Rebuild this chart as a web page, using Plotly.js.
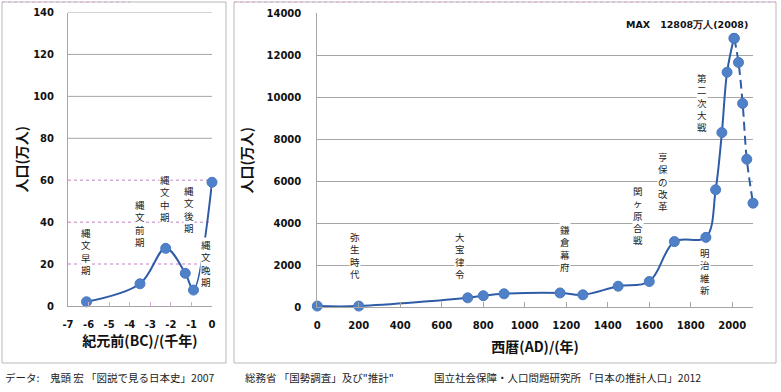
<!DOCTYPE html>
<html>
<head>
<meta charset="utf-8">
<script src="https://cdn.plot.ly/plotly-3.0.1.min.js"></script>
<style>html,body{margin:0;padding:0;background:#fff;}#chart{width:781px;height:392px;}</style>
</head>
<body>
<div id="chart"></div>
<script>
// ---- Left panel: BC (thousand years) ----
const bcYears = [-6.1, -3.5, -2.25, -1.3, -0.9, 0];
const bcPop = [2, 10.6, 27.5, 15.6, 7.6, 59];
const bcTicksX = [-7, -6, -5, -4, -3, -2, -1, 0];
const bcTickText = ['-7', '-6', '-5', '-4', '-3', '-2', '-1', '0'];
const bcTicksY = [0, 20, 40, 60, 80, 100, 120, 140];
const bcGridSolid = [80, 100, 120, 140];
const bcGridDotted = [20, 40, 60];
const bcLabels = ['縄文早期', '縄文前期', '縄文中期', '縄文後期', '縄文晩期', '弥生時代'];
const bcLabelX = [-6.12, -3.5, -2.28, -1.12, -0.29, 0.05];
const bcLabelY = [26, 39.4, 51.3, 45.8, 20.3, 86.4];

// ---- Right panel: AD years ----
const adYears = [0, 200, 725, 800, 900, 1170, 1280, 1450, 1600, 1721, 1873, 1920, 1950, 1975, 2008];
const adPop = [59, 59, 451, 551, 644, 684, 595, 1005, 1227, 3128, 3330, 5596, 8320, 11194, 12808];
const projYears = [2010, 2030, 2050, 2070, 2100];
const projPop = [12806, 11662, 9708, 7050, 4959];
const adTicksX = [0, 200, 400, 600, 800, 1000, 1200, 1400, 1600, 1800, 2000];
const adTicksY = [0, 2000, 4000, 6000, 8000, 10000, 12000, 14000];
const adLabels = ['弥生時代', '大宝律令', '鎌倉幕府', '関ヶ原合戦', '亨保の改革', '明治維新', '第二次大戦'];
const adLabelX = [182, 688, 1194, 1547, 1667, 1868, 1852];
const adLabelY = [2467, 2467, 2800, 4395, 6014, 1705, 9752];
const maxLabel = 'MAX　12808万人(2008)';
const maxLabelX = 1780;
const maxLabelY = 13490;

const sourceTexts = ['データ:　鬼頭 宏 「図説で見る日本史」2007', '総務省 「国勢調査」及び"推計"', '国立社会保障・人口問題研究所 「日本の推計人口」2012'];
const sourceX = [3, 243, 432];

const W = 781, H = 392;
const lineColor = '#2f5ca6';
const markerColor = '#4f81c8';
const pink = '#d7a9d9';
const gray = '#a6a6a6';
const cjk = 'Noto Sans CJK JP';

const vert = s => Array.from(s).join('<br>');

const traces = [
  {x: bcYears, y: bcPop, xaxis: 'x', yaxis: 'y', type: 'scatter', mode: 'lines+markers',
   line: {color: lineColor, width: 2, shape: 'spline', smoothing: 1},
   marker: {color: markerColor, size: 10, line: {color: '#4a78c0', width: 1}}, cliponaxis: false, hoverinfo: 'none'},
  {x: adYears, y: adPop, xaxis: 'x2', yaxis: 'y2', type: 'scatter', mode: 'lines+markers',
   line: {color: lineColor, width: 2, shape: 'spline', smoothing: 1},
   marker: {color: markerColor, size: 10, line: {color: '#4a78c0', width: 1}}, cliponaxis: false, hoverinfo: 'none'},
  {x: projYears, y: projPop, xaxis: 'x2', yaxis: 'y2', type: 'scatter', mode: 'lines+markers',
   line: {color: lineColor, width: 2, shape: 'spline', smoothing: 1, dash: '9px,5px'},
   marker: {color: markerColor, size: 10, line: {color: '#4a78c0', width: 1}}, cliponaxis: false, hoverinfo: 'none'}
];

const shapes = [];
bcGridSolid.forEach(v => shapes.push({type: 'line', layer: 'below', xref: 'x domain', yref: 'y', x0: 0, x1: 1, y0: v, y1: v, line: {color: gray, width: 1}}));
bcGridDotted.forEach(v => shapes.push({type: 'line', layer: 'below', xref: 'x domain', yref: 'y', x0: 0, x1: 1, y0: v, y1: v, line: {color: pink, width: 1.5, dash: 'dot'}}));
// panel frames
shapes.push({type: 'rect', xref: 'paper', yref: 'paper', x0: 2 / W, x1: 226 / W, y0: (H - 363) / H, y1: (H - 2) / H, line: {color: '#b8b8b8', width: 1}, layer: 'below'});
shapes.push({type: 'rect', xref: 'paper', yref: 'paper', x0: 234 / W, x1: 776 / W, y0: (H - 363) / H, y1: (H - 2) / H, line: {color: '#b8b8b8', width: 1}, layer: 'below'});
shapes.push({type: 'line', xref: 'paper', yref: 'paper', x0: 2 / W, x1: 130 / W, y0: (H - 2) / H, y1: (H - 2) / H, line: {color: pink, width: 1, dash: 'dot'}});
shapes.push({type: 'line', xref: 'paper', yref: 'paper', x0: 234 / W, x1: 776 / W, y0: (H - 2) / H, y1: (H - 2) / H, line: {color: pink, width: 1, dash: 'dot'}});

const annotations = [];
const labelFont = {family: cjk, size: 9.5, color: '#222'};
bcLabels.forEach((t, i) => annotations.push({xref: 'x', yref: 'y', x: bcLabelX[i], y: bcLabelY[i], text: vert(t), showarrow: false,
  font: labelFont, bgcolor: 'white', borderpad: 0, xanchor: 'center', yanchor: 'middle'}));
adLabels.forEach((t, i) => annotations.push({xref: 'x2', yref: 'y2', x: adLabelX[i], y: adLabelY[i], text: vert(t), showarrow: false,
  font: labelFont, bgcolor: 'white', borderpad: 0, xanchor: 'center', yanchor: 'middle'}));
annotations.push({xref: 'x2', yref: 'y2', x: maxLabelX, y: maxLabelY, text: maxLabel, showarrow: false,
  font: {family: 'DejaVu Sans', size: 9.5, color: '#111', weight: 'bold'}, xanchor: 'center', yanchor: 'middle'});
sourceTexts.forEach((t, i) => annotations.push({xref: 'paper', yref: 'paper', x: sourceX[i] / W, y: (H - 377) / H, text: t, showarrow: false,
  font: {family: cjk, size: 10.5, color: '#222'}, xanchor: 'left', yanchor: 'middle'}));

const tickFont = {family: 'DejaVu Sans', size: 10, color: '#111', weight: 'bold'};
const titleFont = {family: cjk, size: 14, color: '#111', weight: 'bold'};

const layout = {
  width: W, height: H, margin: {l: 0, r: 0, t: 0, b: 0},
  paper_bgcolor: 'white', plot_bgcolor: 'rgba(0,0,0,0)', showlegend: false,
  xaxis: {domain: [68 / W, 212 / W], range: [-7, 0], anchor: 'y', tickmode: 'array', tickvals: bcTicksX, ticktext: bcTickText,
    ticks: 'inside', ticklen: 4, tickcolor: pink, showline: true, linecolor: gray, zeroline: false, showgrid: false,
    tickfont: tickFont, ticklabelstandoff: 9,
    title: {text: '紀元前(BC)/(千年)', font: titleFont, standoff: 6}},
  yaxis: {domain: [(H - 306) / H, (H - 12.5) / H], range: [0, 140], anchor: 'x', tickmode: 'array', tickvals: bcTicksY,
    showgrid: false, showline: true, linecolor: gray, zeroline: false, ticks: '', tickfont: tickFont, ticklabelstandoff: 11,
    title: {text: '人口(万人)', font: titleFont, standoff: 2}},
  xaxis2: {domain: [317.3 / W, 753 / W], range: [0, 2100], anchor: 'y2', tickmode: 'array', tickvals: adTicksX, tickformat: 'd',
    ticks: 'inside', ticklen: 5, tickcolor: gray, showline: true, linecolor: gray, zeroline: false, showgrid: false,
    tickfont: tickFont, ticklabelstandoff: 9,
    title: {text: '西暦(AD)/(年)', font: titleFont, standoff: 11}},
  yaxis2: {domain: [(H - 307.3) / H, (H - 13.3) / H], range: [0, 14000], anchor: 'x2', tickmode: 'array', tickvals: adTicksY, tickformat: 'd',
    showgrid: true, gridcolor: gray, gridwidth: 1, showline: true, linecolor: gray, zeroline: false, ticks: '',
    tickfont: tickFont, ticklabelstandoff: 13,
    title: {text: '人口(万人)', font: titleFont, standoff: 10}},
  shapes: shapes,
  annotations: annotations
};

Plotly.newPlot('chart', traces, layout, {staticPlot: true, displayModeBar: false});
</script>
</body>
</html>
